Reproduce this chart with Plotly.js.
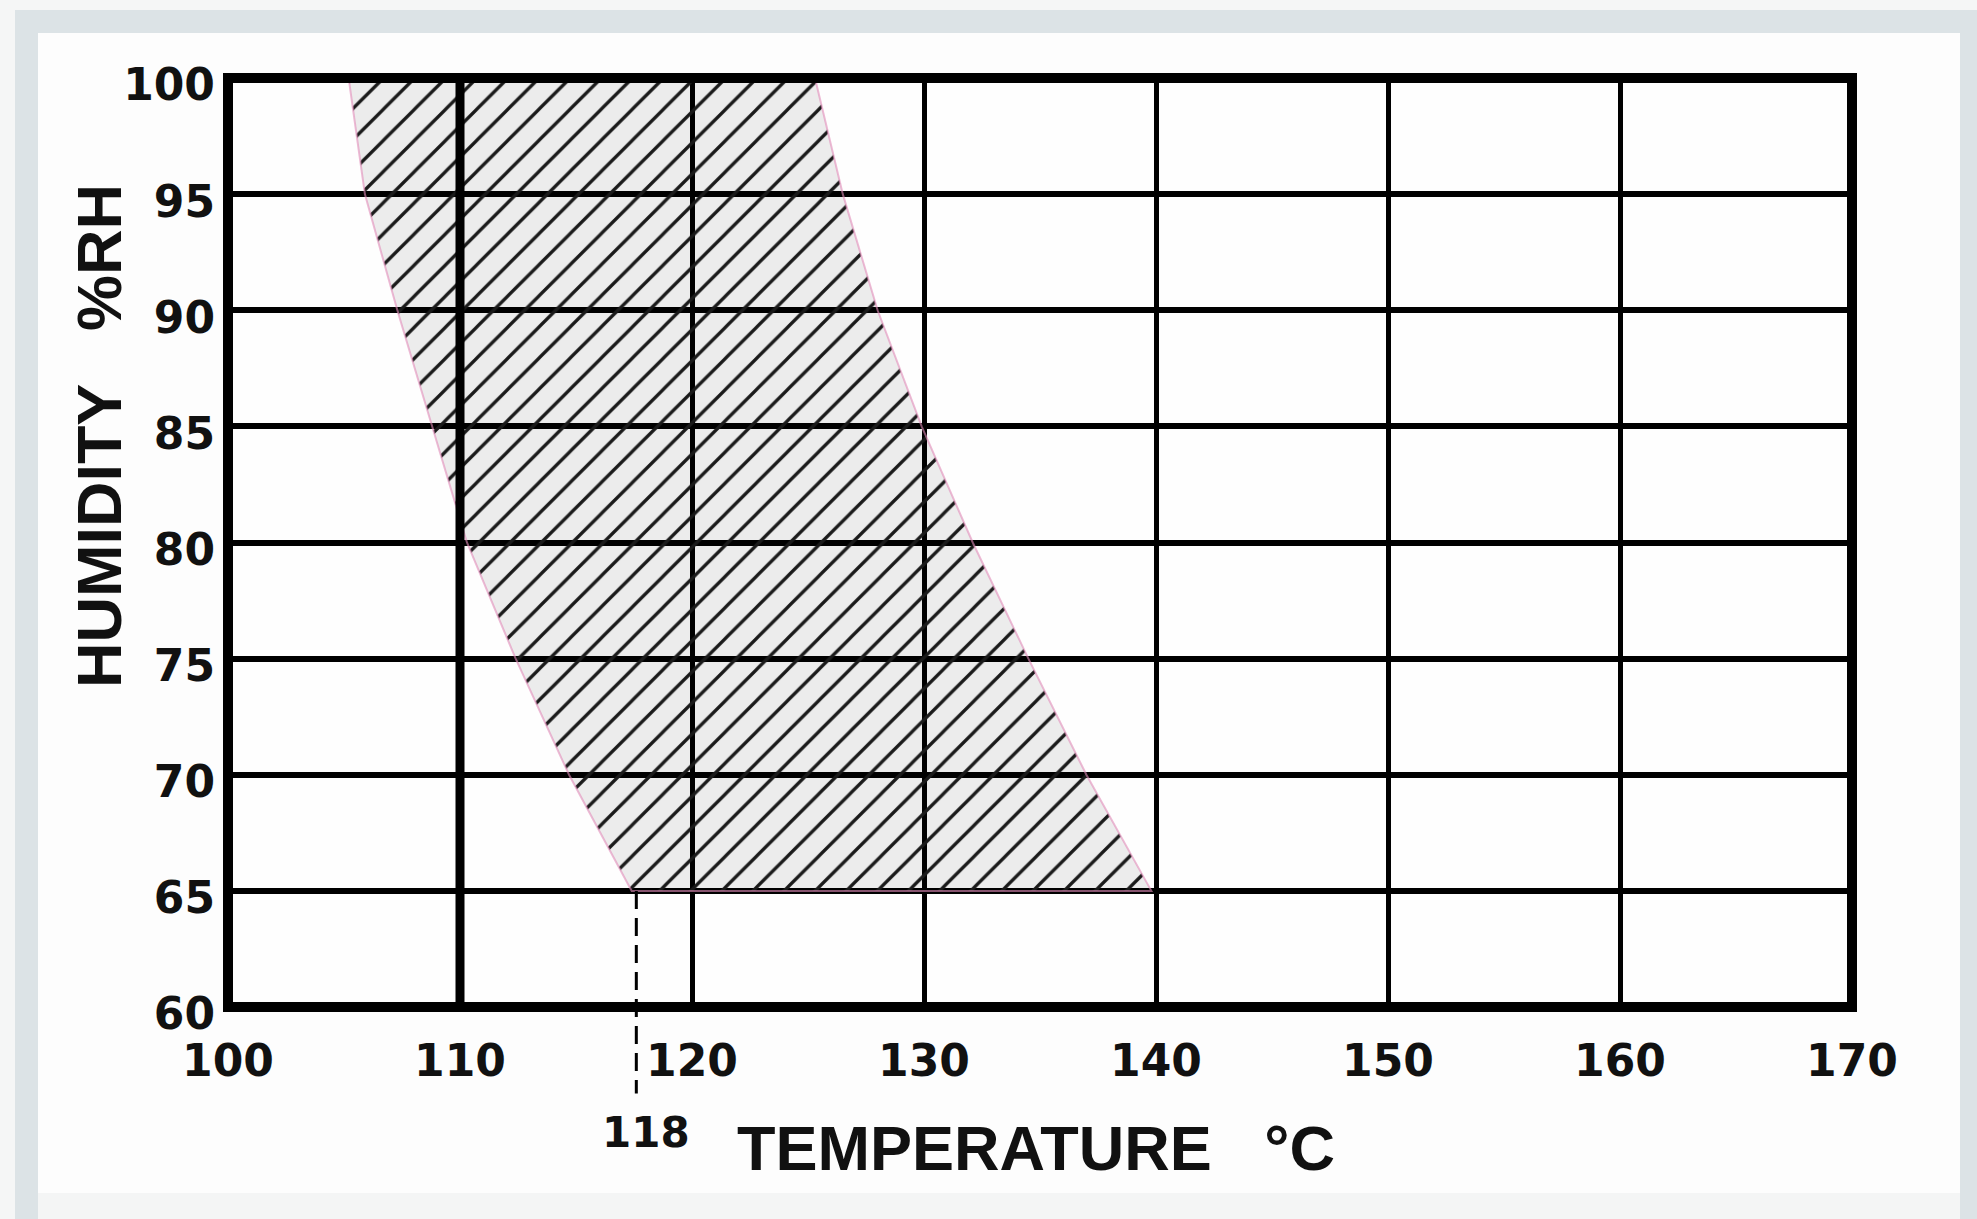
<!DOCTYPE html>
<html><head><meta charset="utf-8">
<script src="https://cdn.plot.ly/plotly-3.0.1.min.js"></script>
<style>
html,body{margin:0;padding:0;background:#f5f6f6;width:1977px;height:1219px;overflow:hidden;}
#frame{position:absolute;left:15px;top:10px;width:1962px;height:1209px;background:#dce3e6;}
#inner{position:absolute;left:38px;top:33px;width:1922px;height:1160px;background:#fdfdfd;}
#foot{position:absolute;left:38px;top:1193px;width:1922px;height:26px;background:#f4f5f5;}
#chart{position:absolute;left:0;top:0;width:1977px;height:1219px;}
</style></head><body>
<div id="frame"></div><div id="inner"></div><div id="foot"></div>
<div id="chart"></div>
<script>
// Data
const humidityRH = [100, 95, 90, 85, 80, 75, 70, 65];
const lowerTempC = [105.2, 105.9, 107.3, 108.8, 110.3, 112.4, 114.7, 117.4];
const upperTempC = [125.3, 126.5, 128.0, 129.9, 132.1, 134.5, 137.0, 139.8];
const xTickVals = [100, 110, 120, 130, 140, 150, 160, 170];
const yTickVals = [60, 65, 70, 75, 80, 85, 90, 95, 100];
const markerTempC = 117.6;
const markerLabel = '118';
const heavyGridTempC = [110];
const xTitle = 'TEMPERATURE\u00a0\u00a0\u00a0°C';
const yTitle = 'HUMIDITY\u00a0\u00a0\u00a0%RH';

const xRange = [100, 170];
const yRange = [60, 100];

const FONT = 'Liberation Sans, Arial, Helvetica, sans-serif';
const NUMFONT = 'DejaVu Sans, Verdana, sans-serif';

const polyX = lowerTempC.concat(upperTempC.slice().reverse(), [lowerTempC[0]]);
const polyY = humidityRH.concat(humidityRH.slice().reverse(), [humidityRH[0]]);

const traces = [
  {
    type: 'scatter', mode: 'lines', x: polyX, y: polyY,
    fill: 'toself',
    fillcolor: 'rgba(0,0,0,0.07)',
    fillpattern: {shape: '/', fgcolor: '#1a1a1a', bgcolor: 'rgba(0,0,0,0.07)', size: 22, solidity: 0.15},
    line: {color: 'rgba(225,140,185,0.6)', width: 2},
    hoverinfo: 'skip', showlegend: false
  },
  {
    type: 'scatter', mode: 'lines',
    x: [heavyGridTempC[0], heavyGridTempC[0]], y: yRange,
    line: {color: '#000', width: 9},
    hoverinfo: 'skip', showlegend: false
  }
];

const minRH = Math.min(...humidityRH);
const paperY = v => (v - yRange[0]) / (yRange[1] - yRange[0]);

const layout = {
  width: 1977, height: 1219,
  margin: {l: 228, r: 125, t: 78, b: 212, pad: 0},
  paper_bgcolor: 'rgba(0,0,0,0)',
  plot_bgcolor: '#fefefe',
  showlegend: false,
  xaxis: {
    range: xRange, tickvals: xTickVals, ticktext: xTickVals.map(String),
    showgrid: true, gridcolor: '#000', gridwidth: 5,
    zeroline: false, showline: false, ticks: '',
    ticklabelstandoff: 24,
    tickfont: {family: NUMFONT, size: 44, color: '#111', weight: 'bold'},
    fixedrange: true
  },
  yaxis: {
    range: yRange, tickvals: yTickVals, ticktext: yTickVals.map(String),
    showgrid: true, gridcolor: '#000', gridwidth: 6,
    zeroline: false, showline: false, ticks: '',
    ticklabelstandoff: 12,
    ticklabelshift: 7,
    tickfont: {family: NUMFONT, size: 44, color: '#111', weight: 'bold'},
    fixedrange: true
  },
  shapes: [
    {type: 'rect', xref: 'paper', yref: 'paper', x0: 0, x1: 1, y0: 0, y1: 1,
     line: {color: '#000', width: 10}, fillcolor: 'rgba(0,0,0,0)', layer: 'above'},
    {type: 'line', xref: 'x', yref: 'paper', x0: markerTempC, x1: markerTempC,
     y0: paperY(minRH), y1: -0.093,
     line: {color: '#000', width: 3, dash: '18px,9px'}, layer: 'above'}
  ],
  annotations: [
    {text: xTitle, xref: 'paper', yref: 'paper', x: 0.312, y: -0.152,
     xanchor: 'left', yanchor: 'middle', showarrow: false,
     font: {family: FONT, size: 63, color: '#111', weight: 'bold'}},
    {text: yTitle, xref: 'paper', yref: 'paper', x: -0.0794, y: 0.6146,
     xanchor: 'center', yanchor: 'middle', showarrow: false, textangle: -90,
     font: {family: FONT, size: 63, color: '#111', weight: 'bold'}},
    {text: markerLabel, xref: 'x', yref: 'paper', x: 118, y: -0.135,
     xanchor: 'center', yanchor: 'middle', showarrow: false,
     font: {family: NUMFONT, size: 42, color: '#111', weight: 'bold'}}
  ]
};

Plotly.newPlot('chart', traces, layout, {displayModeBar: false, staticPlot: true});
</script>
</body></html>
